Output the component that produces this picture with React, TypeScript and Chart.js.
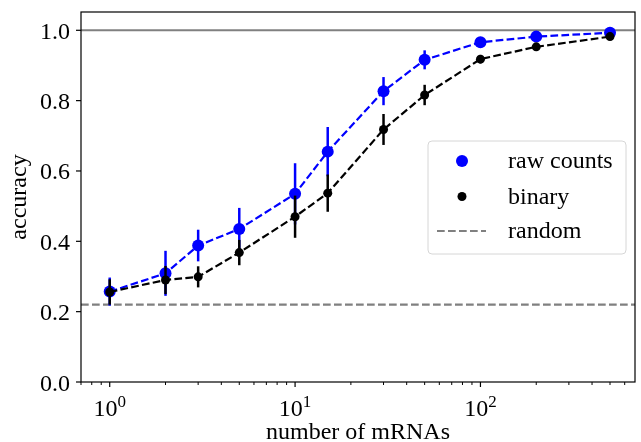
import React, { useEffect, useRef } from "react";
import { Chart, registerables } from "chart.js";

Chart.register(...registerables);

// ---- data ----
const mrnaCounts = [1, 2, 3, 5, 10, 15, 30, 50, 100, 200, 500];
const rawCountsAcc = [0.257, 0.309, 0.388, 0.435, 0.535, 0.655, 0.827, 0.916, 0.966, 0.982, 0.993];
const rawCountsErr = [0.04, 0.064, 0.045, 0.06, 0.087, 0.07, 0.04, 0.027, 0.01, 0.008, 0.006];
const binaryAcc = [0.256, 0.29, 0.299, 0.368, 0.47, 0.537, 0.718, 0.816, 0.918, 0.953, 0.982];
const binaryErr = [0.036, 0.04, 0.03, 0.036, 0.06, 0.053, 0.044, 0.029, 0.012, 0.008, 0.006];
const randomLevel = 0.22;
const perfectLevel = 1.0;
const yTicks = [0, 0.2, 0.4, 0.6, 0.8, 1.0];
const xMajorTicks = [1, 10, 100];
const xTickExponents = ["0", "1", "2"];
const legendLabels = ["raw counts", "binary", "random"];
const xTitle = "number of mRNAs";
const yTitle = "accuracy";

const FONT = '"Liberation Serif", "Times New Roman", serif';
const BLUE = "#0000ff";
const BLACK = "#000000";
const GRAY = "#808080";
const DASH = [7.7, 3.3];

const mplPlugin = {
  id: "mplPlugin",
  beforeDatasetsDraw(chart: any) {
    const { ctx, chartArea: a, scales } = chart;
    const y = scales.y;
    ctx.save();
    ctx.beginPath();
    ctx.rect(a.left, a.top, a.right - a.left, a.bottom - a.top);
    ctx.clip();
    ctx.lineWidth = 2.1;
    ctx.strokeStyle = GRAY;
    ctx.setLineDash([]);
    ctx.beginPath();
    ctx.moveTo(a.left, y.getPixelForValue(perfectLevel));
    ctx.lineTo(a.right, y.getPixelForValue(perfectLevel));
    ctx.stroke();
    ctx.setLineDash(DASH);
    ctx.beginPath();
    ctx.moveTo(a.left, y.getPixelForValue(randomLevel));
    ctx.lineTo(a.right, y.getPixelForValue(randomLevel));
    ctx.stroke();
    ctx.restore();
  },
  beforeDatasetDraw(chart: any, args: any) {
    const ds = chart.data.datasets[args.index];
    const errs: number[] = ds.errors;
    if (!errs) return;
    const { ctx, scales } = chart;
    ctx.save();
    ctx.strokeStyle = ds.borderColor;
    ctx.lineWidth = 2.5;
    ctx.setLineDash([]);
    ds.data.forEach((p: any, i: number) => {
      const px = scales.x.getPixelForValue(p.x);
      ctx.beginPath();
      ctx.moveTo(px, scales.y.getPixelForValue(p.y - errs[i]));
      ctx.lineTo(px, scales.y.getPixelForValue(p.y + errs[i]));
      ctx.stroke();
    });
    ctx.restore();
  },
  afterDatasetsDraw(chart: any) {
    const { ctx, chartArea: a, scales } = chart;
    const xs = scales.x;
    const ys = scales.y;
    ctx.save();
    ctx.setLineDash([]);
    ctx.strokeStyle = BLACK;
    ctx.fillStyle = BLACK;
    ctx.lineWidth = 1.2;
    ctx.strokeRect(a.left, a.top, a.right - a.left, a.bottom - a.top);

    ctx.font = `24px ${FONT}`;
    ctx.textAlign = "right";
    ctx.textBaseline = "alphabetic";
    yTicks.forEach((v) => {
      const py = ys.getPixelForValue(v);
      ctx.beginPath();
      ctx.moveTo(a.left, py);
      ctx.lineTo(a.left - 5, py);
      ctx.stroke();
      ctx.fillText(v.toFixed(1), a.left - 11, py + 8.5);
    });

    const minor: number[] = [];
    for (let d = 0.1; d <= 1000; d *= 10) {
      for (let k = 2; k <= 9; k++) {
        const v = Math.round(d * k * 1000) / 1000;
        if (v >= xs.min && v <= xs.max) minor.push(v);
      }
    }
    ctx.lineWidth = 1;
    minor.forEach((v) => {
      const px = xs.getPixelForValue(v);
      ctx.beginPath();
      ctx.moveTo(px, a.bottom);
      ctx.lineTo(px, a.bottom + 3);
      ctx.stroke();
    });
    ctx.lineWidth = 1.2;
    xMajorTicks.forEach((v, i) => {
      const px = xs.getPixelForValue(v);
      ctx.beginPath();
      ctx.moveTo(px, a.bottom);
      ctx.lineTo(px, a.bottom + 5);
      ctx.stroke();
      ctx.textAlign = "left";
      ctx.font = `24px ${FONT}`;
      const w1 = ctx.measureText("10").width;
      ctx.font = `17px ${FONT}`;
      const w2 = ctx.measureText(xTickExponents[i]).width;
      const start = px - (w1 + w2) / 2;
      ctx.font = `24px ${FONT}`;
      ctx.fillText("10", start, 416);
      ctx.font = `17px ${FONT}`;
      ctx.fillText(xTickExponents[i], start + w1, 407);
    });

    ctx.font = `24px ${FONT}`;
    ctx.textAlign = "center";
    ctx.fillText(xTitle, (a.left + a.right) / 2, 439);
    ctx.save();
    ctx.translate(26, (a.top + a.bottom) / 2);
    ctx.rotate(-Math.PI / 2);
    ctx.fillText(yTitle, 0, 0);
    ctx.restore();

    const lx = 428, ly = 141, lw = 198, lh = 113, r = 4;
    ctx.beginPath();
    ctx.moveTo(lx + r, ly);
    ctx.lineTo(lx + lw - r, ly);
    ctx.arcTo(lx + lw, ly, lx + lw, ly + r, r);
    ctx.lineTo(lx + lw, ly + lh - r);
    ctx.arcTo(lx + lw, ly + lh, lx + lw - r, ly + lh, r);
    ctx.lineTo(lx + r, ly + lh);
    ctx.arcTo(lx, ly + lh, lx, ly + lh - r, r);
    ctx.lineTo(lx, ly + r);
    ctx.arcTo(lx, ly, lx + r, ly, r);
    ctx.closePath();
    ctx.fillStyle = "rgba(255,255,255,0.8)";
    ctx.fill();
    ctx.strokeStyle = "#d6d6d6";
    ctx.lineWidth = 1;
    ctx.stroke();

    const rowY = [161, 196.5, 231];
    ctx.fillStyle = BLUE;
    ctx.beginPath();
    ctx.arc(462, rowY[0], 6, 0, Math.PI * 2);
    ctx.fill();
    ctx.fillStyle = BLACK;
    ctx.beginPath();
    ctx.arc(462, rowY[1], 4.5, 0, Math.PI * 2);
    ctx.fill();
    ctx.strokeStyle = GRAY;
    ctx.lineWidth = 2.1;
    ctx.setLineDash(DASH);
    ctx.beginPath();
    ctx.moveTo(437, rowY[2]);
    ctx.lineTo(486, rowY[2]);
    ctx.stroke();
    ctx.setLineDash([]);

    ctx.fillStyle = BLACK;
    ctx.font = `24px ${FONT}`;
    ctx.textAlign = "left";
    legendLabels.forEach((t, i) => {
      ctx.fillText(t, 508, rowY[i] + 7);
    });
    ctx.restore();
  },
};

export default function App() {
  const canvasRef = useRef<HTMLCanvasElement | null>(null);

  useEffect(() => {
    const canvas = canvasRef.current;
    if (!canvas) return;
    const chart = new Chart(canvas, {
      type: "line",
      data: {
        datasets: [
          {
            label: legendLabels[0],
            data: mrnaCounts.map((x, i) => ({ x, y: rawCountsAcc[i] })),
            errors: rawCountsErr,
            borderColor: BLUE,
            backgroundColor: BLUE,
            borderWidth: 2.2,
            borderDash: DASH,
            pointRadius: 6,
            pointBorderWidth: 0,
            pointBackgroundColor: BLUE,
            tension: 0,
            order: 2,
          } as any,
          {
            label: legendLabels[1],
            data: mrnaCounts.map((x, i) => ({ x, y: binaryAcc[i] })),
            errors: binaryErr,
            borderColor: BLACK,
            backgroundColor: BLACK,
            borderWidth: 2.2,
            borderDash: DASH,
            pointRadius: 4.5,
            pointBorderWidth: 0,
            pointBackgroundColor: BLACK,
            tension: 0,
            order: 1,
          } as any,
        ],
      },
      options: {
        animation: false,
        responsive: false,
        devicePixelRatio: 1,
        layout: { padding: { left: 81, right: 4, top: 12, bottom: 60 } },
        plugins: { legend: { display: false }, tooltip: { enabled: false } },
        scales: {
          x: { type: "logarithmic", min: 0.733, max: 682, display: false },
          y: { type: "linear", min: 0, max: 1.052, display: false },
        },
      },
      plugins: [mplPlugin],
    });
    return () => chart.destroy();
  }, []);

  return (
    <div style={{ position: "fixed", left: 0, top: 0, width: 641, height: 442, background: "#fff" }}>
      <canvas ref={canvasRef} width={641} height={442} style={{ display: "block" }} />
    </div>
  );
}
